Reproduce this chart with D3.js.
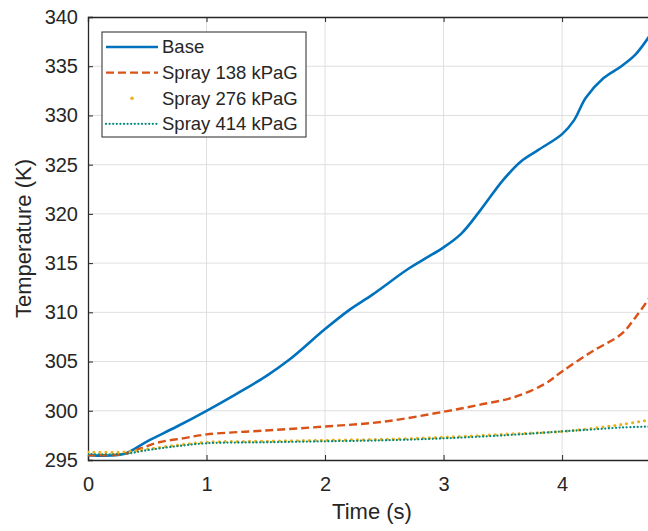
<!DOCTYPE html>
<html>
<head>
<meta charset="utf-8">
<script src="https://cdn.jsdelivr.net/npm/d3@7"></script>
<style>
  body { margin: 0; background: #fff; }
  svg { font-family: "Liberation Sans", Arial, sans-serif; }
</style>
</head>
<body>
<div id="grafica"></div>
<script>
// valores
const tBase = [0, 0.3, 0.5, 0.75, 1, 1.25, 1.5, 1.7, 2, 2.2, 2.4, 2.7, 2.85, 3, 3.15, 3.3, 3.5, 3.65, 3.8, 4, 4.1, 4.2, 4.35, 4.5, 4.62, 4.75];
const base = [295.5, 295.6, 296.9, 298.4, 300.0, 301.7, 303.5, 305.2, 308.3, 310.2, 311.8, 314.4, 315.5, 316.6, 318.0, 320.2, 323.4, 325.3, 326.5, 328.1, 329.5, 331.8, 333.8, 335.0, 336.2, 338.3];

const tSpray138 = [0, 0.3, 0.45, 0.6, 0.8, 1, 1.5, 2, 2.5, 3, 3.3, 3.6, 3.85, 4, 4.25, 4.5, 4.62, 4.75];
const spray138 = [295.5, 295.6, 296.2, 296.8, 297.2, 297.6, 298.0, 298.4, 298.9, 299.9, 300.6, 301.4, 302.7, 304.0, 306.0, 307.8, 309.5, 311.7];

const tSpray = [0, 0.3, 0.5, 0.75, 1, 1.5, 2, 2.5, 3, 3.5, 4, 4.25, 4.5, 4.75];
const spray276 = [295.8, 295.8, 296.1, 296.5, 296.8, 296.9, 297.0, 297.1, 297.3, 297.6, 297.9, 298.2, 298.6, 299.1];
const spray414 = [295.6, 295.6, 296.0, 296.4, 296.7, 296.8, 296.9, 297.0, 297.2, 297.5, 297.9, 298.1, 298.3, 298.4];

const xTicks = [0, 1, 2, 3, 4];
const yTicks = [295, 300, 305, 310, 315, 320, 325, 330, 335, 340];
const nombres = ["Base", "Spray 138 kPaG", "Spray 276 kPaG", "Spray 414 kPaG"];

const width = 648, height = 531;
const margin = {left: 88, top: 17, bottom: 71};

let svg = d3.select("#grafica").append("svg")
    .attr("width", width)
    .attr("height", height);

const x = d3.scaleLinear().domain([0, 4.75]).range([margin.left, 651]);
const y = d3.scaleLinear().domain([295, 340]).range([height - margin.bottom, margin.top]);

const gris = "#262626";

// rejilla
svg.append("g").selectAll("line")
    .data(xTicks.slice(1))
    .join("line")
    .attr("x1", d => x(d)).attr("x2", d => x(d))
    .attr("y1", y(295)).attr("y2", y(340))
    .attr("stroke", "#dfdfdf").attr("stroke-width", 1);
svg.append("g").selectAll("line")
    .data(yTicks.slice(1, -1))
    .join("line")
    .attr("x1", x(0)).attr("x2", x(4.75))
    .attr("y1", d => y(d)).attr("y2", d => y(d))
    .attr("stroke", "#dfdfdf").attr("stroke-width", 1);

// ejes
let ejeX = svg.append("g")
    .attr("transform", `translate(0,${y(295)})`)
    .call(d3.axisBottom(x).tickValues(xTicks).tickSize(-5).tickPadding(17).tickFormat(d3.format("d")));
let ejeXsup = svg.append("g")
    .attr("transform", `translate(0,${y(340)})`)
    .call(d3.axisTop(x).tickValues(xTicks).tickSize(-5).tickFormat(""));
let ejeY = svg.append("g")
    .attr("transform", `translate(${x(0)},0)`)
    .call(d3.axisLeft(y).tickValues(yTicks).tickSize(-5).tickPadding(10));

[ejeX, ejeXsup, ejeY].forEach(g => {
  g.select(".domain").attr("stroke", gris).attr("stroke-width", 1.3);
  g.selectAll(".tick line").attr("stroke", gris);
  g.selectAll("text").attr("fill", gris).attr("font-size", 20).attr("font-family", "Liberation Sans, Arial, sans-serif");
});

svg.append("text")
    .attr("x", 372).attr("y", 519)
    .attr("text-anchor", "middle")
    .attr("font-size", 22).attr("fill", gris)
    .text("Time (s)");
svg.append("text")
    .attr("transform", `translate(31,${(y(295) + y(340)) / 2}) rotate(-90)`)
    .attr("text-anchor", "middle")
    .attr("font-size", 22).attr("fill", gris)
    .text("Temperature (K)");

// curvas
const linea = d3.line().x(d => x(d[0])).y(d => y(d[1])).curve(d3.curveCatmullRom);

const series = [
  {t: tBase, v: base, color: "#0072BD", dash: null, ancho: 2.6, cap: "butt"},
  {t: tSpray138, v: spray138, color: "#D95319", dash: "8,4", ancho: 2.4, cap: "butt"},
  {t: tSpray, v: spray276, color: "#EDB120", dash: "0,6", ancho: 3.2, cap: "round"},
  {t: tSpray, v: spray414, color: "#008A80", dash: "0,3.6", ancho: 2.3, cap: "round"}
];

svg.append("defs").append("clipPath").attr("id", "recorte")
  .append("rect").attr("x", x(0)).attr("y", y(340)).attr("width", x(4.75) - x(0)).attr("height", y(295) - y(340));

svg.append("g").attr("clip-path", "url(#recorte)")
  .selectAll("path")
  .data(series)
  .join("path")
    .attr("d", s => linea(s.t.map((t, i) => [t, s.v[i]])))
    .attr("fill", "none")
    .attr("stroke", s => s.color)
    .attr("stroke-width", s => s.ancho)
    .attr("stroke-dasharray", s => s.dash)
    .attr("stroke-linecap", s => s.cap);

// leyenda
let leyenda = svg.append("g");
leyenda.append("rect")
    .attr("x", 102).attr("y", 32).attr("width", 204).attr("height", 105)
    .attr("fill", "#fff").attr("stroke", gris).attr("stroke-width", 1);

let entradas = leyenda.selectAll(".entrada")
    .data(series)
    .join("g")
    .attr("class", "entrada")
    .attr("transform", (d, i) => `translate(0,${47 + i * 25.6})`);

entradas.filter((d, i) => i != 2).append("line")
    .attr("x1", 106).attr("x2", 158)
    .attr("stroke", s => s.color)
    .attr("stroke-width", s => s.ancho)
    .attr("stroke-dasharray", s => s.dash)
    .attr("stroke-linecap", s => s.cap);
entradas.filter((d, i) => i == 2).append("circle")
    .attr("cx", 132).attr("r", 1.8)
    .attr("fill", s => s.color);

entradas.append("text")
    .attr("x", 162).attr("dy", "0.35em")
    .attr("font-size", 18.5).attr("fill", gris)
    .text((d, i) => nombres[i]);
</script>
</body>
</html>
